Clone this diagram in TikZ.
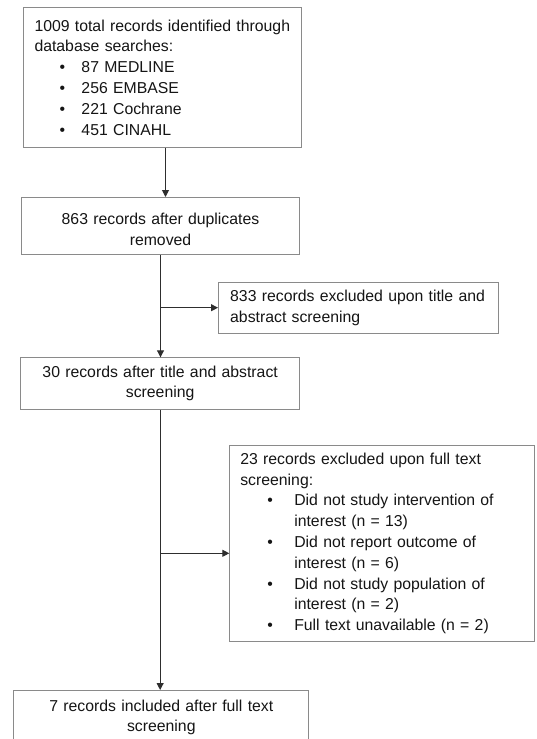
\documentclass[tikz,border=0pt]{standalone}
\usepackage{fontspec}
\setmainfont{Liberation Sans}
\usetikzlibrary{arrows.meta,calc}
\definecolor{txt}{HTML}{151515}
\definecolor{bord}{HTML}{8A8A8A}
\definecolor{arrc}{HTML}{2E2E2E}
\newcommand\oneline[1]{\mbox{#1}}
\newcommand\bul[3]{\hspace*{#1}\makebox[#2][l]{\textbullet}\mbox{#3}}
\begin{document}
\begin{tikzpicture}[x=1pt,y=-1pt,
  box/.style={draw=bord, line width=1pt, rectangle, inner sep=0pt, text=txt,
    font=\fontsize{15.8}{20.8}\selectfont, anchor=north west},
  arr/.style={draw=arrc, line width=1pt, -{Triangle[length=7pt,width=7pt]}}]
\useasboundingbox (0,0) rectangle (536,739);
\fill[white] (0,0) rectangle (536,739);

\node[box, minimum width=278pt, minimum height=139.4pt, text width=256pt, align=left] (b1) at (23,7.3)
 {\oneline{1009 total records identified through}\\
  \oneline{database searches:}\\
  \bul{25pt}{22pt}{87 MEDLINE}\\
  \bul{25pt}{22pt}{256 EMBASE}\\
  \bul{25pt}{22pt}{221 Cochrane}\\
  \bul{25pt}{22pt}{451 CINAHL}};

\node[box, minimum width=278pt, minimum height=57pt, text width=260pt, align=center] (b2) at (21,197)
 {\rule{0pt}{18.5pt}\oneline{863 records after duplicates}\\\oneline{removed}};

\node[box, minimum width=280pt, minimum height=51pt, text width=256.6pt, align=left] (b3) at (218,281.7)
 {\oneline{833 records excluded upon title and}\\\oneline{abstract screening}};

\node[box, minimum width=279.3pt, minimum height=51.4pt, text width=260pt, align=center] (b4) at (20,357.3)
 {\oneline{30 records after title and abstract}\\\oneline{screening}};

\node[box, minimum width=305pt, minimum height=196pt, text width=284pt, align=left] (b5) at (229.3,445)
 {\oneline{23 records excluded upon full text}\\
  \oneline{screening:}\\
  \bul{27pt}{27pt}{Did not study intervention of}\\
  \hspace*{54pt}\oneline{interest (n = 13)}\\
  \bul{27pt}{27pt}{Did not report outcome of}\\
  \hspace*{54pt}\oneline{interest (n = 6)}\\
  \bul{27pt}{27pt}{Did not study population of}\\
  \hspace*{54pt}\oneline{interest (n = 2)}\\
  \bul{27pt}{27pt}{Full text unavailable (n = 2)}};

\node[box, minimum width=295pt, minimum height=54pt, text width=270pt, align=center] (b6) at (13.3,690)
 {\oneline{7 records included after full text}\\\oneline{screening}};

\coordinate (a1) at ($(b1.south)+(3,0)$);
\draw[arr] (a1) -- (a1 |- b2.north);

\draw[arr] (b2.south) -- (b2.south |- b4.north);
\coordinate (j1) at (b2.south |- b3.west);
\draw[arr] (j1) -- (b3.west);

\draw[arr] (b4.south) -- (b4.south |- b6.north);
\coordinate (j2) at ($(b4.south)+(0,143.6)$);
\draw[arr] (j2) -- (j2 -| b5.west);
\end{tikzpicture}
\end{document}
